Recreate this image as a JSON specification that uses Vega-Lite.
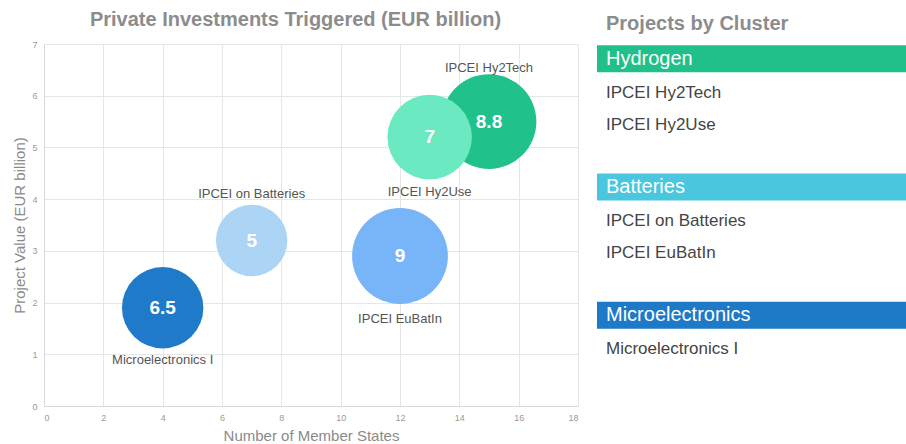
{
  "$schema": "https://vega.github.io/schema/vega-lite/v6.json",
  "padding": {"left": 12, "top": 10, "right": 0, "bottom": 0},
  "background": "white",
  "spacing": 19,
  "resolve": {"scale": {"color": "independent"}},
  "config": {
    "font": "Liberation Sans",
    "view": {"stroke": null},
    "axis": {
      "gridColor": "#e6e6e6",
      "domainColor": "#d9d9d9",
      "ticks": false,
      "labelColor": "#9a9a9a",
      "labelFontSize": 9,
      "titleColor": "#8a8a8a",
      "titleFontSize": 15,
      "titleFontWeight": "normal",
      "labelPadding": 7,
      "titlePadding": 4
    }
  },
  "hconcat": [
    {
      "width": 534,
      "height": 362,
      "title": {"text": "Private Investments Triggered (EUR billion)", "fontSize": 20, "fontWeight": "bold", "color": "#8c8c8c", "frame": "bounds", "anchor": "middle", "offset": 10},
      "data": {"values": [
        {"project": "Microelectronics I", "states": 4, "value": 1.9, "private": 6.5},
        {"project": "IPCEI on Batteries", "states": 7, "value": 3.2, "private": 5},
        {"project": "IPCEI EuBatIn", "states": 12, "value": 2.9, "private": 9},
        {"project": "IPCEI Hy2Tech", "states": 15, "value": 5.5, "private": 8.8},
        {"project": "IPCEI Hy2Use", "states": 13, "value": 5.2, "private": 7}
      ]},
      "encoding": {
        "x": {"field": "states", "type": "quantitative", "title": "Number of Member States", "scale": {"domain": [0, 18], "nice": false}, "axis": {"values": [0, 2, 4, 6, 8, 10, 12, 14, 16, 18], "titlePadding": 6}},
        "y": {"field": "value", "type": "quantitative", "title": "Project Value (EUR billion)", "scale": {"domain": [0, 7], "nice": false}, "axis": {"values": [0, 1, 2, 3, 4, 5, 6, 7]}}
      },
      "layer": [
        {
          "mark": {"type": "circle", "opacity": 1},
          "encoding": {
            "size": {"field": "private", "type": "quantitative", "scale": {"type": "linear", "domain": [0, 10], "range": [0, 10200], "zero": true}, "legend": null},
            "color": {"field": "project", "type": "nominal", "legend": null, "scale": {
              "domain": ["Microelectronics I", "IPCEI on Batteries", "IPCEI EuBatIn", "IPCEI Hy2Tech", "IPCEI Hy2Use"],
              "range": ["#1f7bc9", "#acd4f4", "#77b5f8", "#20c18a", "#6be9c1"]}},
            "order": {"field": "private", "type": "quantitative", "sort": "descending"}
          }
        },
        {
          "mark": {"type": "text", "color": "white", "fontWeight": "bold", "fontSize": 19, "baseline": "middle"},
          "encoding": {"text": {"field": "private", "type": "quantitative"}}
        },
        {
          "transform": [{"filter": "datum.project === 'IPCEI Hy2Tech'"}],
          "mark": {"type": "text", "color": "#555555", "fontSize": 13, "baseline": "middle", "dy": -54},
          "encoding": {"text": {"field": "project"}}
        },
        {
          "transform": [{"filter": "datum.project === 'IPCEI on Batteries'"}],
          "mark": {"type": "text", "color": "#555555", "fontSize": 13, "baseline": "middle", "dy": -47},
          "encoding": {"text": {"field": "project"}}
        },
        {
          "transform": [{"filter": "datum.project === 'IPCEI Hy2Use'"}],
          "mark": {"type": "text", "color": "#555555", "fontSize": 13, "baseline": "middle", "dy": 55},
          "encoding": {"text": {"field": "project"}}
        },
        {
          "transform": [{"filter": "datum.project === 'IPCEI EuBatIn'"}],
          "mark": {"type": "text", "color": "#555555", "fontSize": 13, "baseline": "middle", "dy": 63},
          "encoding": {"text": {"field": "project"}}
        },
        {
          "transform": [{"filter": "datum.project === 'Microelectronics I'"}],
          "mark": {"type": "text", "color": "#555555", "fontSize": 13, "baseline": "middle", "dy": 52},
          "encoding": {"text": {"field": "project"}}
        }
      ]
    },
    {
      "width": 309,
      "height": 362,
      "title": {"text": "Projects by Cluster", "fontSize": 20, "fontWeight": "bold", "color": "#8c8c8c", "frame": "group", "anchor": "start", "dx": 9, "offset": 10},
      "data": {"values": [
        {"row": 0, "kind": "header", "cluster": "Hydrogen", "label": "Hydrogen"},
        {"row": 1, "kind": "item", "cluster": "Hydrogen", "label": "IPCEI Hy2Tech"},
        {"row": 2, "kind": "item", "cluster": "Hydrogen", "label": "IPCEI Hy2Use"},
        {"row": 4, "kind": "header", "cluster": "Batteries", "label": "Batteries"},
        {"row": 5, "kind": "item", "cluster": "Batteries", "label": "IPCEI on Batteries"},
        {"row": 6, "kind": "item", "cluster": "Batteries", "label": "IPCEI EuBatIn"},
        {"row": 8, "kind": "header", "cluster": "Microelectronics", "label": "Microelectronics"},
        {"row": 9, "kind": "item", "cluster": "Microelectronics", "label": "Microelectronics  I"}
      ]},
      "encoding": {
        "y": {"field": "row", "type": "quantitative", "scale": {"domain": [-0.3, 10.67], "reverse": true, "nice": false, "zero": false}, "axis": null},
        "x": {"datum": 0, "type": "quantitative", "scale": {"domain": [0, 1], "nice": false}, "axis": null}
      },
      "layer": [
        {
          "transform": [{"filter": "datum.kind === 'header'"}],
          "mark": {"type": "bar", "height": 27},
          "encoding": {
            "x2": {"datum": 1},
            "color": {"field": "cluster", "type": "nominal", "legend": null, "scale": {"domain": ["Hydrogen", "Batteries", "Microelectronics"], "range": ["#21bf89", "#4ac6de", "#1e7ac7"]}}
          }
        },
        {
          "transform": [{"filter": "datum.kind === 'header'"}],
          "mark": {"type": "text", "align": "left", "baseline": "middle", "dx": 9, "fontSize": 20, "color": "white"},
          "encoding": {"text": {"field": "label"}}
        },
        {
          "transform": [{"filter": "datum.kind === 'item'"}],
          "mark": {"type": "text", "align": "left", "baseline": "middle", "dx": 9, "dy": 2, "fontSize": 17, "color": "#444444"},
          "encoding": {"text": {"field": "label"}}
        }
      ]
    }
  ]
}
